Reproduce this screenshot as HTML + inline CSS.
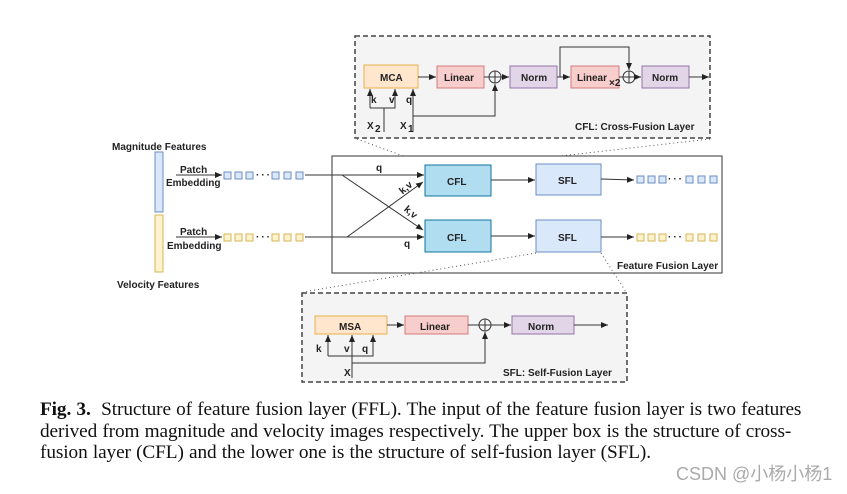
<!DOCTYPE html>
<html><head><style>
body{margin:0;background:#fff;width:847px;height:494px;overflow:hidden}
svg text{font-family:"Liberation Sans",Arial,sans-serif;font-weight:bold;font-size:10px;fill:#222}
.cap{position:absolute;left:40px;top:399px;width:800px;font-family:"Liberation Serif",serif;font-size:19.3px;line-height:21.5px;color:#111;white-space:nowrap;letter-spacing:-0.1px;word-spacing:0.5px}
.wm{position:absolute;left:676px;top:460px;font-family:"Liberation Sans","Noto Sans CJK SC",sans-serif;font-size:18px;color:#aaa}
</style></head><body>
<svg width="847" height="400" style="position:absolute;left:0;top:0">
<defs><marker id="a" markerWidth="8" markerHeight="8" refX="7" refY="4" orient="auto" markerUnits="userSpaceOnUse"><path d="M0,1 L7,4 L0,7 z" fill="#222"/></marker></defs>
<g stroke="#333" stroke-width="1" fill="none">
<rect x="355" y="36" width="355" height="102" fill="#f4f4f4" stroke="#444" stroke-dasharray="5,3" stroke-width="1.5"/>
<line x1="357" y1="139" x2="425" y2="164" stroke-dasharray="1,3" stroke="#555"/>
<line x1="710" y1="139" x2="490" y2="164" stroke-dasharray="1,3" stroke="#555"/>
<rect x="364" y="65" width="54" height="23" fill="#ffe6cc" stroke="#e8b04a"/>
<rect x="437" y="66" width="47" height="22" fill="#f8cecc" stroke="#d07c7c"/>
<rect x="510" y="66" width="47" height="22" fill="#e1d5e7" stroke="#9673a6"/>
<rect x="571" y="66" width="48" height="22" fill="#f8cecc" stroke="#d07c7c"/>
<rect x="642" y="66" width="47" height="22" fill="#e1d5e7" stroke="#9673a6"/>
<line x1="418" y1="77" x2="436" y2="77" marker-end="url(#a)"/>
<line x1="484" y1="77" x2="489" y2="77"/>
<circle cx="495" cy="77" r="6"/><path d="M489,77h12M495,71v12"/>
<line x1="501" y1="77" x2="509" y2="77" marker-end="url(#a)"/>
<line x1="557" y1="77" x2="570" y2="77" marker-end="url(#a)"/>
<polyline points="560,77 560,47 629,47 629,70" marker-end="url(#a)"/>
<line x1="619" y1="77" x2="623" y2="77"/>
<circle cx="629" cy="77" r="6"/><path d="M623,77h12M629,71v12"/>
<line x1="635" y1="77" x2="641" y2="77" marker-end="url(#a)"/>
<line x1="689" y1="77" x2="709" y2="77" marker-end="url(#a)"/>
<polyline points="370,108 370,89" marker-end="url(#a)"/>
<polyline points="370,108 395,108 395,89" marker-end="url(#a)"/>
<line x1="384" y1="108" x2="384" y2="132"/>
<line x1="413" y1="132" x2="413" y2="89" marker-end="url(#a)"/>
<polyline points="413,116 495,116 495,84" marker-end="url(#a)"/>
<rect x="332" y="156" width="390" height="117" fill="#fff"/>
<rect x="155" y="152" width="8" height="60" fill="#dae8fc" stroke="#6c8ebf"/>
<rect x="155" y="215" width="8" height="57" fill="#fff2cc" stroke="#d6b656"/>
<line x1="176" y1="175" x2="222" y2="175" marker-end="url(#a)"/>
<line x1="176" y1="237" x2="222" y2="237" marker-end="url(#a)"/>
<line x1="305" y1="175" x2="424" y2="175" marker-end="url(#a)"/>
<line x1="305" y1="237" x2="424" y2="237" marker-end="url(#a)"/>
<line x1="342" y1="175" x2="423" y2="230" marker-end="url(#a)"/>
<line x1="347" y1="237" x2="423" y2="182" marker-end="url(#a)"/>
<rect x="425" y="165" width="66" height="31" fill="#b1ddf0" stroke="#10739e"/>
<rect x="425" y="220" width="66" height="32" fill="#b1ddf0" stroke="#10739e"/>
<rect x="536" y="164" width="65" height="31" fill="#dae8fc" stroke="#6c8ebf"/>
<rect x="536" y="220" width="65" height="32" fill="#dae8fc" stroke="#6c8ebf"/>
<line x1="491" y1="180" x2="535" y2="180" marker-end="url(#a)"/>
<line x1="491" y1="236" x2="535" y2="236" marker-end="url(#a)"/>
<line x1="601" y1="179" x2="634" y2="180" marker-end="url(#a)"/>
<line x1="601" y1="237" x2="634" y2="237" marker-end="url(#a)"/>
<line x1="536" y1="253" x2="303" y2="292" stroke-dasharray="1,3" stroke="#555"/>
<line x1="601" y1="253" x2="626" y2="292" stroke-dasharray="1,3" stroke="#555"/>
<rect x="302" y="293" width="325" height="89" fill="#f4f4f4" stroke="#444" stroke-dasharray="5,3" stroke-width="1.5"/>
<rect x="315" y="316" width="72" height="18" fill="#ffe6cc" stroke="#e8b04a"/>
<rect x="405" y="316" width="63" height="18" fill="#f8cecc" stroke="#d07c7c"/>
<rect x="512" y="316" width="62" height="18" fill="#e1d5e7" stroke="#9673a6"/>
<line x1="387" y1="325" x2="404" y2="325" marker-end="url(#a)"/>
<line x1="468" y1="325" x2="479" y2="325"/>
<circle cx="485" cy="325" r="6"/><path d="M479,325h12M485,319v12"/>
<line x1="491" y1="325" x2="511" y2="325" marker-end="url(#a)"/>
<line x1="574" y1="325" x2="608" y2="325" marker-end="url(#a)"/>
<polyline points="328,356 328,335" marker-end="url(#a)"/>
<polyline points="328,356 373,356 373,335" marker-end="url(#a)"/>
<line x1="352" y1="378" x2="352" y2="335" marker-end="url(#a)"/>
<polyline points="352,363 485,363 485,332" marker-end="url(#a)"/>
</g>
<g fill="#dae8fc" stroke="#6c8ebf">
<rect x="224" y="172" width="7" height="7"/><rect x="235" y="172" width="7" height="7"/><rect x="246" y="172" width="7" height="7"/>
<rect x="272" y="172" width="7" height="7"/><rect x="284" y="172" width="7" height="7"/><rect x="296" y="172" width="7" height="7"/>
<rect x="637" y="176" width="7" height="7"/><rect x="648" y="176" width="7" height="7"/><rect x="659" y="176" width="7" height="7"/>
<rect x="686" y="176" width="7" height="7"/><rect x="698" y="176" width="7" height="7"/><rect x="710" y="176" width="7" height="7"/>
</g>
<g fill="#fff2cc" stroke="#d6b656">
<rect x="224" y="234" width="7" height="7"/><rect x="235" y="234" width="7" height="7"/><rect x="246" y="234" width="7" height="7"/>
<rect x="272" y="234" width="7" height="7"/><rect x="284" y="234" width="7" height="7"/><rect x="296" y="234" width="7" height="7"/>
<rect x="637" y="234" width="7" height="7"/><rect x="648" y="234" width="7" height="7"/><rect x="659" y="234" width="7" height="7"/>
<rect x="686" y="234" width="7" height="7"/><rect x="698" y="234" width="7" height="7"/><rect x="710" y="234" width="7" height="7"/>
</g>
<g fill="#444">
<text x="256" y="178" letter-spacing="2">···</text><text x="256" y="240" letter-spacing="2">···</text>
<text x="668" y="182" letter-spacing="2">···</text><text x="668" y="240" letter-spacing="2">···</text>
</g>
<text x="380" y="81">MCA</text><text x="444" y="81">Linear</text><text x="521" y="81">Norm</text>
<text x="577" y="81">Linear</text><text x="609" y="86" font-size="8">×2</text><text x="652" y="81">Norm</text>
<text x="371" y="103">k</text><text x="389" y="103">v</text><text x="406" y="103">q</text>
<text x="367" y="129">X</text><text x="375" y="132" font-size="7">2</text>
<text x="400" y="129">X</text><text x="408" y="132" font-size="7">1</text>
<text x="575" y="130" font-size="9.5">CFL: Cross-Fusion Layer</text>
<text x="112" y="150" font-size="9.5">Magnitude Features</text>
<text x="117" y="288" font-size="9.5">Velocity Features</text>
<text x="180" y="173" font-size="9.5">Patch</text><text x="166" y="186" font-size="9.5">Embedding</text>
<text x="180" y="235" font-size="9.5">Patch</text><text x="167" y="249" font-size="9.5">Embedding</text>
<text x="376" y="171">q</text><text x="404" y="247">q</text>
<text x="399" y="193" transform="rotate(-40 403 189)">k,v</text>
<text x="402" y="214" transform="rotate(40 408 214)">k,v</text>
<text x="447" y="185">CFL</text><text x="447" y="241">CFL</text>
<text x="558" y="184">SFL</text><text x="558" y="241">SFL</text>
<text x="617" y="269" font-size="9.5">Feature Fusion Layer</text>
<text x="339" y="330">MSA</text><text x="420" y="330">Linear</text><text x="528" y="330">Norm</text>
<text x="316" y="352">k</text><text x="344" y="352">v</text><text x="362" y="352">q</text>
<text x="344" y="376">X</text>
<text x="503" y="376" font-size="9.5">SFL: Self-Fusion Layer</text>
</svg>
<div class="cap"><b>Fig. 3.</b>&nbsp;&nbsp;Structure of feature fusion layer (FFL). The input of the feature fusion layer is two features<br>derived from magnitude and velocity images respectively. The upper box is the structure of cross-<br>fusion layer (CFL) and the lower one is the structure of self-fusion layer (SFL).</div>
<div class="wm">CSDN @小杨小杨1</div>
</body></html>
